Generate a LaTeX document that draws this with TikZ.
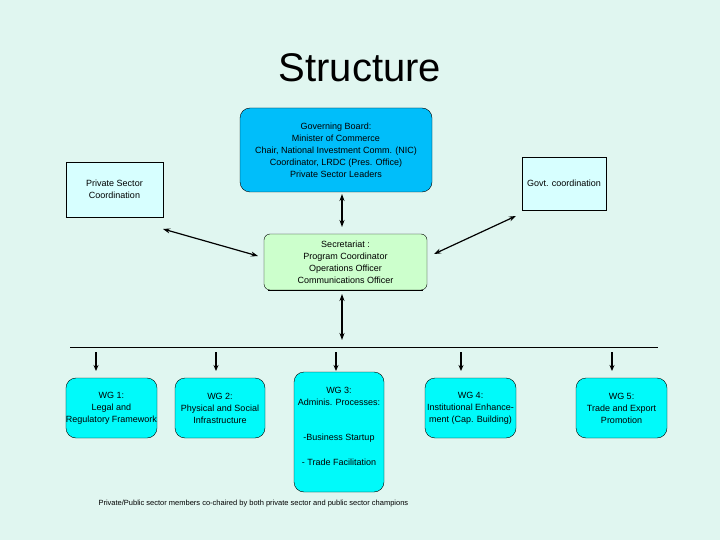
\documentclass[tikz,border=0pt]{standalone}
\usepackage{fontspec}
\setmainfont{Liberation Sans}
\usetikzlibrary{arrows.meta}
\definecolor{bg}{RGB}{224,246,240}
\definecolor{gb}{RGB}{0,190,250}
\definecolor{sec}{RGB}{204,255,204}
\definecolor{pale}{RGB}{215,255,255}
\definecolor{wg}{RGB}{0,250,250}
\begin{document}
\begin{tikzpicture}[x=1pt,y=-1pt,
  txt/.style={font=\fontsize{9}{12}\selectfont,align=center},
  rbox/.style={draw,rounded corners=10pt,txt,inner sep=0pt},
  sbox/.style={draw,txt,inner sep=0pt},
  dbl/.style={{Stealth[length=7pt,width=5pt]}-{Stealth[length=7pt,width=5pt]},line width=1.2pt},
  down/.style={-{Stealth[length=6pt,width=5pt]},line width=1.2pt}]
\fill[bg] (0,0) rectangle (720,540);
\useasboundingbox (0,0) rectangle (720,540);
\node (title) at (360,68) {\fontsize{40}{44}\selectfont Structure};
\node[rbox,fill=gb,minimum width=192pt,minimum height=84pt] (gov) at (336,150) {Governing Board:\\Minister of Commerce\\Chair, National Investment Comm. (NIC)\\Coordinator, LRDC (Pres. Office)\\Private Sector Leaders};
\node[sbox,fill=pale,minimum width=97pt,minimum height=55pt] (ps) at (114.5,189.5) {Private Sector\\Coordination};
\draw[line width=1.2pt] (ps.south west) -- (ps.south east);
\node[sbox,fill=pale,minimum width=84pt,minimum height=53pt] (gc) at (564,183.5) {Govt. coordination};
\node[rbox,rounded corners=6pt,fill=sec,minimum width=163pt,minimum height=56pt] (sec) at (345.5,262) {Secretariat :\\Program Coordinator\\Operations Officer\\Communications Officer};
\draw[line width=0.8pt] ([xshift=4pt]sec.south west) -- ([xshift=-4pt]sec.south east);
\coordinate (psa) at (163,229);
\coordinate (seca) at (258,256);
\draw[dbl] (psa) -- (seca);
\coordinate (gca) at (516,216);
\coordinate (secb) at (434,254);
\draw[dbl] (gca) -- (secb);
\coordinate (ga) at (342,194);
\coordinate (sa) at (342,227);
\draw[dbl] (ga) -- (sa);
\coordinate (sb) at (342,294);
\coordinate (bar) at (342,340);
\draw[dbl] (sb) -- (bar);
\coordinate (l) at (70,347); \coordinate (r) at (658,347);
\draw[line width=0.8pt] (l) -- (r);
\node[rbox,fill=wg,minimum width=91pt,minimum height=60pt] (w1) at (111.5,408) {WG 1:\\Legal and\\Regulatory Framework};
\node[rbox,fill=wg,minimum width=90pt,minimum height=60pt] (w2) at (220,408) {WG 2:\\Physical and Social\\Infrastructure};
\node[rbox,fill=wg,minimum width=90pt,minimum height=120pt] (w3) at (339,432) {};
\node[txt] at (339,396) {WG 3:\\Adminis. Processes:};
\node[txt] at (339,438) {-Business Startup};
\node[txt] at (339,462) {- Trade Facilitation};
\node[rbox,fill=wg,minimum width=91pt,minimum height=60pt] (w4) at (470.5,408) {WG 4:\\Institutional Enhance-\\ment (Cap. Building)};
\node[rbox,fill=wg,minimum width=91pt,minimum height=60pt] (w5) at (621.5,408) {WG 5:\\Trade and Export\\Promotion};
\foreach \x/\n in {96/w1,216/w2,336/w3,461/w4,612/w5}{
  \coordinate (t\n) at (\x,352);
  \coordinate (h\n) at (\x,371);
  \draw[down] (t\n) -- (h\n);
}
\node[anchor=west,font=\fontsize{7.5}{9}\selectfont] (foot) at (95,504) {Private/Public sector members co-chaired by both private sector and public sector champions};
\end{tikzpicture}
\end{document}
